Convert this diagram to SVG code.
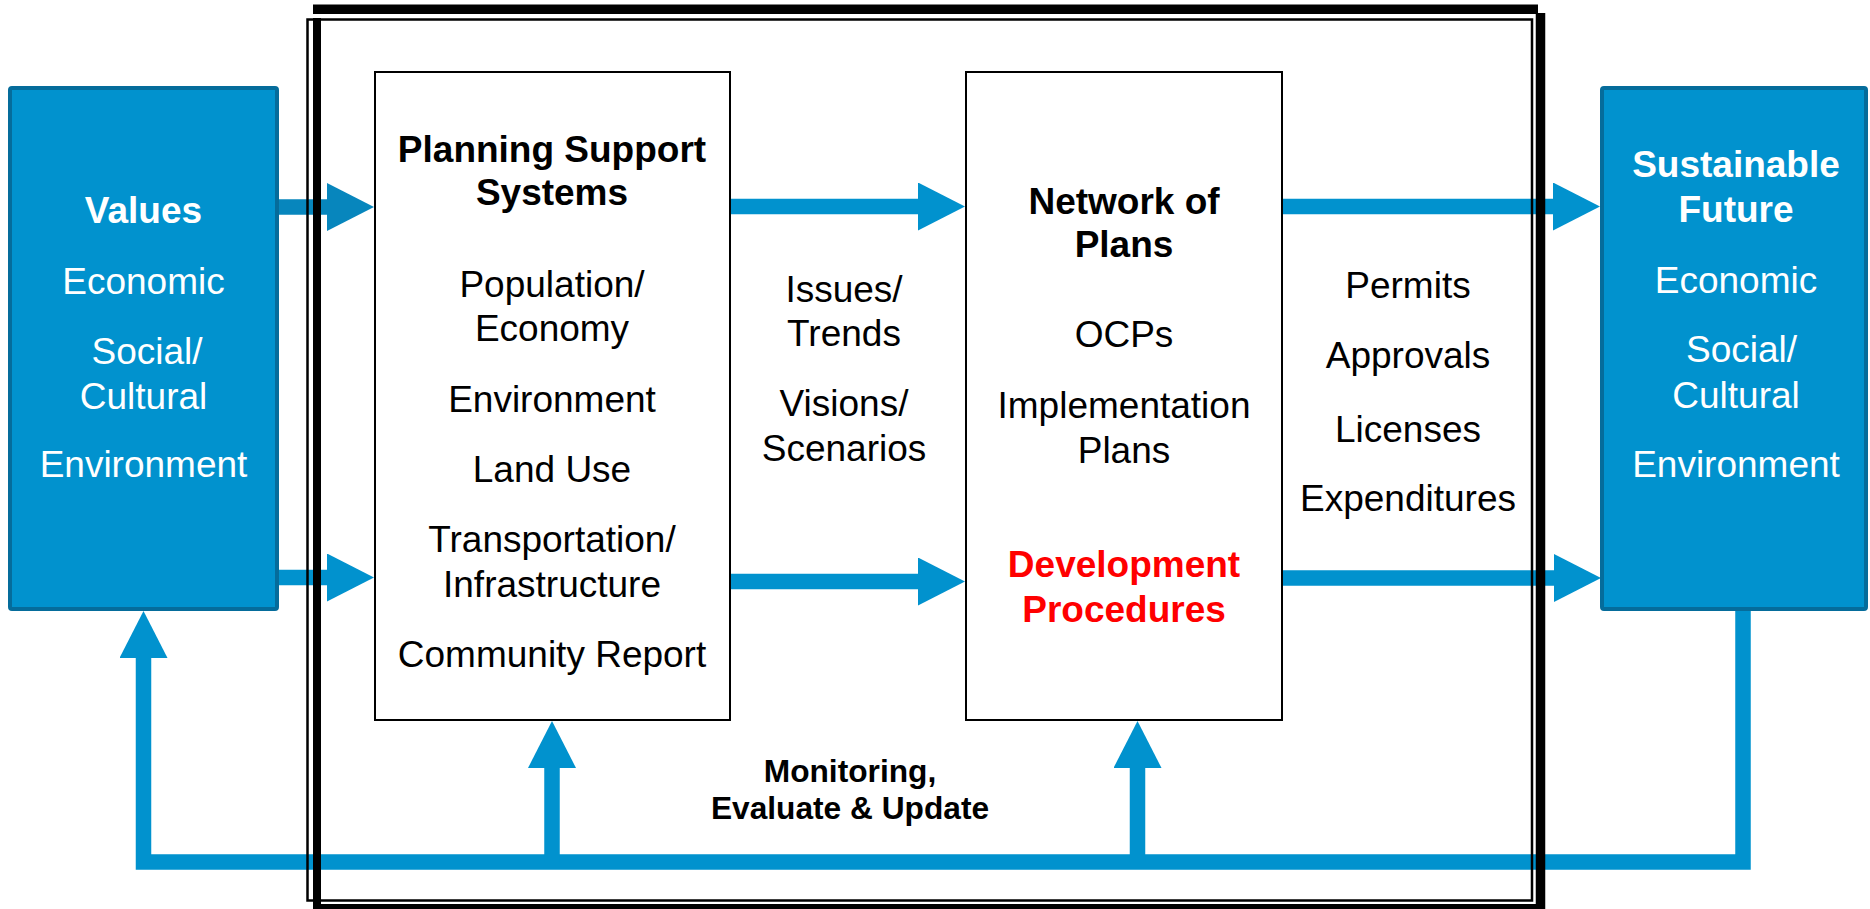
<svg xmlns="http://www.w3.org/2000/svg" width="1870" height="909" viewBox="0 0 1870 909">
<style>
text{font-family:"Liberation Sans",Arial,sans-serif;font-size:37px;text-anchor:middle}
.b{font-weight:bold}
.w{fill:#ffffff}
.k{fill:#000000}
.r{fill:#ff0000}
.blue{fill:#0192ce;stroke:#056c9b;stroke-width:4}
.white{fill:#ffffff;stroke:#000000;stroke-width:2}
.c{fill:none;stroke:#0192ce;stroke-width:15.5}
.cd{fill:none;stroke:#0786bd;stroke-width:15.5}
.f{stroke:#000000;fill:none}
</style>
<defs>
<marker id="ah" markerUnits="userSpaceOnUse" markerWidth="48" markerHeight="48" refX="0" refY="24" orient="auto" viewBox="0 0 48 48">
<path d="M0,0 L47,24 L0,48 z" fill="#0192ce"/>
</marker>
<marker id="ahd" markerUnits="userSpaceOnUse" markerWidth="48" markerHeight="48" refX="0" refY="24" orient="auto" viewBox="0 0 48 48">
<path d="M0,0 L47,24 L0,48 z" fill="#0786bd"/>
</marker>
</defs>
<rect x="0" y="0" width="1870" height="909" fill="#ffffff"/>
<g id="connectors">
<line class="cd" x1="277" y1="207" x2="327" y2="207" marker-end="url(#ahd)"/>
<line class="c" x1="277" y1="577.5" x2="327" y2="577.5" marker-end="url(#ah)"/>
<line class="c" x1="730" y1="206.5" x2="918" y2="206.5" marker-end="url(#ah)"/>
<line class="c" x1="730" y1="581.5" x2="918" y2="581.5" marker-end="url(#ah)"/>
<line class="c" x1="1282" y1="206.5" x2="1553" y2="206.5" marker-end="url(#ah)"/>
<line class="c" x1="1282" y1="578" x2="1554" y2="578" marker-end="url(#ah)"/>
<polyline class="c" points="1743,611 1743,862 143.5,862 143.5,658" marker-end="url(#ah)"/>
<line class="c" x1="552" y1="862" x2="552" y2="768" marker-end="url(#ah)"/>
<line class="c" x1="1137.5" y1="862" x2="1137.5" y2="768" marker-end="url(#ah)"/>
</g>
<g id="frame">
<rect class="f" x="307.5" y="19.5" width="1224.5" height="881" stroke-width="2.5"/>
<line class="f" x1="313" y1="9.3" x2="1538" y2="9.3" stroke-width="9.5"/>
<line class="f" x1="317" y1="18" x2="317" y2="909" stroke-width="8"/>
<line class="f" x1="1540.5" y1="13" x2="1540.5" y2="909" stroke-width="9.5"/>
<line class="f" x1="313" y1="906.5" x2="1545" y2="906.5" stroke-width="5"/>
</g>
<g id="values">
<rect class="blue" x="10" y="88" width="267" height="521" rx="2"/>
<text class="w b" x="143.5" y="223">Values</text>
<text class="w" x="143.5" y="294">Economic</text>
<text class="w" x="147" y="364">Social/</text>
<text class="w" x="143.5" y="409">Cultural</text>
<text class="w" x="143.5" y="477">Environment</text>
</g>
<g id="pss">
<rect class="white" x="375" y="72" width="355" height="648"/>
<text class="k b" x="552" y="161.7">Planning Support</text>
<text class="k b" x="552" y="205">Systems</text>
<text class="k" x="552" y="296.7">Population/</text>
<text class="k" x="552" y="340.7">Economy</text>
<text class="k" x="552" y="411.7">Environment</text>
<text class="k" x="552" y="481.7">Land Use</text>
<text class="k" x="552" y="551.7">Transportation/</text>
<text class="k" x="552" y="596.7">Infrastructure</text>
<text class="k" x="552" y="666.7">Community Report</text>
</g>
<g id="middle-labels">
<text class="k" x="844" y="301.7">Issues/</text>
<text class="k" x="844" y="346">Trends</text>
<text class="k" x="844" y="415.7">Visions/</text>
<text class="k" x="844" y="460.7">Scenarios</text>
</g>
<g id="network">
<rect class="white" x="966" y="72" width="316" height="648"/>
<text class="k b" x="1124" y="214">Network of</text>
<text class="k b" x="1124" y="257">Plans</text>
<text class="k" x="1124" y="347">OCPs</text>
<text class="k" x="1124" y="417.7">Implementation</text>
<text class="k" x="1124" y="462.7">Plans</text>
<text class="r b" x="1124" y="576.7">Development</text>
<text class="r b" x="1124" y="621.7">Procedures</text>
</g>
<g id="right-labels">
<text class="k" x="1408" y="298">Permits</text>
<text class="k" x="1408" y="368.3">Approvals</text>
<text class="k" x="1408" y="441.7">Licenses</text>
<text class="k" x="1408" y="510.7">Expenditures</text>
</g>
<g id="sustainable">
<rect class="blue" x="1602" y="88" width="264" height="521" rx="2"/>
<text class="w b" x="1736" y="176.7">Sustainable</text>
<text class="w b" x="1736" y="222">Future</text>
<text class="w" x="1736" y="293">Economic</text>
<text class="w" x="1741.5" y="362">Social/</text>
<text class="w" x="1736" y="408">Cultural</text>
<text class="w" x="1736" y="477">Environment</text>
</g>
<g id="monitoring">
<text class="k b" x="850" y="781.7" style="font-size:31.7px">Monitoring,</text>
<text class="k b" x="850" y="819" style="font-size:31.7px">Evaluate &amp; Update</text>
</g>
</svg>
